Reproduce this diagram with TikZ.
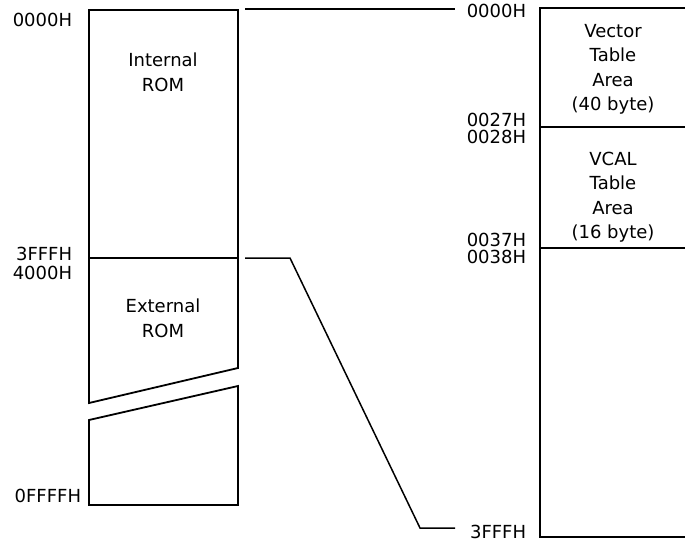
\documentclass[tikz,border=0pt]{standalone}
\usepackage{fontspec}
\setmainfont{DejaVu Sans}

\begin{document}
\begin{tikzpicture}[x=1pt, y=-1pt, line width=1.8pt, line join=miter,
  font=\fontsize{18}{24.5}\selectfont,
  addr/.style={anchor=east, inner sep=0pt},
  area/.style={anchor=north, align=center, inner sep=0pt},
  link/.style={line width=1.5pt}]
\useasboundingbox (0,0) rectangle (685,543);
% left map: internal ROM, external ROM, broken at the slant
\coordinate (iTL) at (89,10);   \coordinate (iTR) at (238,10);
\coordinate (dL)  at (89,258);  \coordinate (dR)  at (238,258);
\coordinate (cL)  at (89,403);  \coordinate (cR)  at (238,368);
\coordinate (eL)  at (89,420);  \coordinate (eR)  at (238,386);
\coordinate (bL)  at (89,505);  \coordinate (bR)  at (238,505);
\draw (iTL) -- (iTR) -- (cR) -- (cL) -- cycle;
\draw (dL) -- (dR);
\draw (eL) -- (eR) -- (bR) -- (bL) -- cycle;
\node[area] (introm) at (163,52)  {Internal\\ROM};
\node[area] (extrom) at (163,298) {External\\ROM};
\node[addr] (a0)  at (73,20)  {0000H};
\node[addr] (a3f) at (73,254) {3FFFH};
\node[addr] (a4)  at (73,273) {4000H};
\node[addr] (aff) at (82,496) {0FFFFH};
% right map: first 16K in detail
\coordinate (rTL) at (540,8);   \coordinate (rTR) at (690,8);
\coordinate (r1L) at (540,127); \coordinate (r1R) at (690,127);
\coordinate (r2L) at (540,248); \coordinate (r2R) at (690,248);
\coordinate (rBL) at (540,537); \coordinate (rBR) at (690,537);
\draw (rTR) -- (rTL) -- (rBL) -- (rBR);
\draw (r1L) -- (r1R);
\draw (r2L) -- (r2R);
\node[area] (vect) at (613,23)  {Vector\\Table\\Area\\(40 byte)};
\node[area] (vcal) at (613,151) {VCAL\\Table\\Area\\(16 byte)};
\node[addr] (b0)   at (527,11)  {0000H};
\node[addr] (b27)  at (527,120) {0027H};
\node[addr] (b28)  at (527,137) {0028H};
\node[addr] (b37)  at (527,240) {0037H};
\node[addr] (b38)  at (527,257) {0038H};
\node[addr] (b3f)  at (527,532) {3FFFH};
% zoom lines between the two maps
\coordinate (zA) at (245,9);   \coordinate (zB) at (455,9);
\coordinate (zC) at (245,258); \coordinate (zD) at (290,258);
\coordinate (zE) at (420,528); \coordinate (zF) at (455,528);
\draw[link] (zA) -- (zB);
\draw[link] (zC) -- (zD) -- (zE) -- (zF);
\end{tikzpicture}
\end{document}
